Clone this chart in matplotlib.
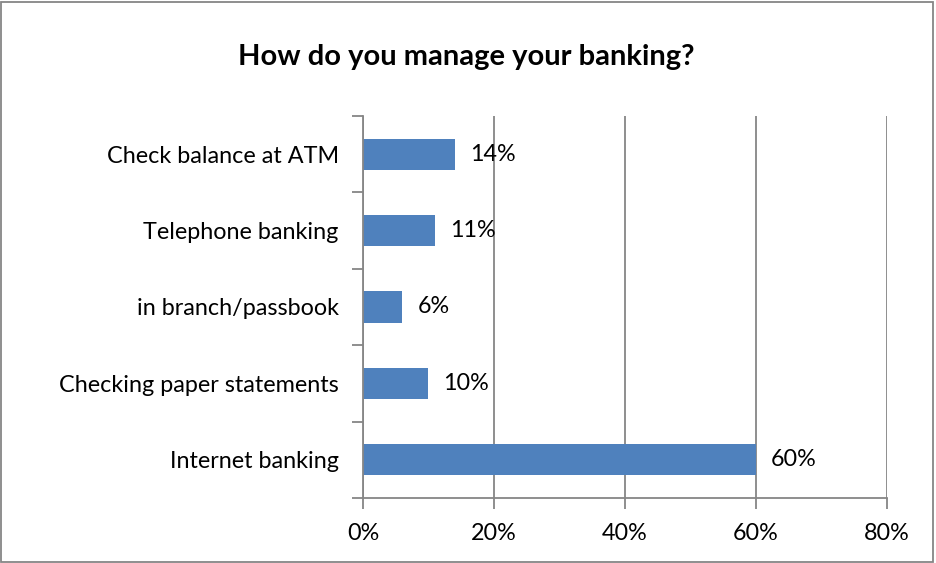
import numpy as np
import matplotlib
matplotlib.use("Agg")
import matplotlib.pyplot as plt
from matplotlib.patches import Rectangle
from matplotlib.ticker import FixedLocator

plt.rcParams['font.family'] = ['Lato', 'DejaVu Sans']

# survey answers, listed bottom to top
categories = ['Internet banking', 'Checking paper statements', 'in branch/passbook',
              'Telephone banking', 'Check balance at ATM']
shares = [60, 10, 6, 11, 14]
x_ticks = [0, 20, 40, 60, 80]
x_tick_labels = ['0%', '20%', '40%', '60%', '80%']

grey = '#868686'
bar_blue = '#4f81bd'

fig = plt.figure(figsize=(9.37, 5.63), dpi=100)
ax = fig.add_axes([0.3874, 0.1155, 0.9466 - 0.3874, 0.794 - 0.1155])

y = np.arange(len(categories))
ax.barh(y, shares, height=0.41, color=bar_blue, zorder=3)

for yi, v in zip(y, shares):
    ax.text(v + 2.3, yi, f'{v}%', va='center', ha='left', fontsize=16.8, zorder=4)

ax.set_xlim(0, 80)
ax.set_ylim(-0.5, len(categories) - 0.5)
ax.set_xticks(x_ticks)
ax.set_xticklabels(x_tick_labels, fontsize=16.8)
ax.set_yticks(y)
ax.set_yticklabels(categories, fontsize=16.8)
ax.yaxis.set_minor_locator(FixedLocator(np.arange(-0.5, len(categories), 1)))
ax.tick_params(axis='y', which='major', length=0, pad=17.5)
ax.tick_params(axis='y', which='minor', length=8, color=grey, width=1.3)
ax.tick_params(axis='x', length=8, color=grey, width=1.3, pad=10)

ax.grid(axis='x', color=grey, linewidth=1.3, zorder=0)
for side in ['top', 'right']:
    ax.spines[side].set_visible(False)
for side in ['left', 'bottom']:
    ax.spines[side].set_color(grey)
    ax.spines[side].set_linewidth(1.3)
    ax.spines[side].set_zorder(5)

fig.text(0.498, 0.898, 'How do you manage your banking?', ha='center', va='center',
         fontsize=21, fontweight='bold')

# thin frame around the whole chart
fig.patches.append(Rectangle((0.001, 0.002), 0.995, 0.994, transform=fig.transFigure,
                             fill=False, edgecolor=grey, linewidth=1.3))

fig.savefig('out.png', dpi=100)
